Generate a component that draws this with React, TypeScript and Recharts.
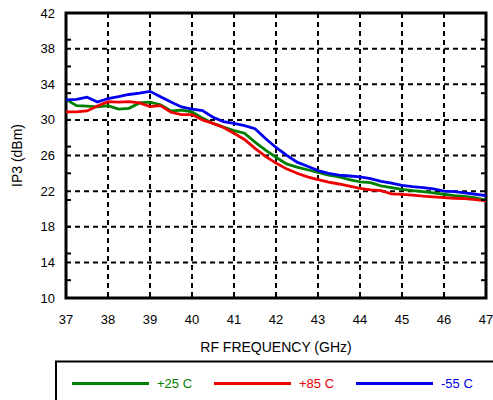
import React from "react";
import { LineChart, Line, XAxis, YAxis, CartesianGrid, ReferenceArea } from "recharts";

const freqs = [
  37, 37.25, 37.5, 37.75, 38, 38.25, 38.5, 38.75, 39, 39.25, 39.5, 39.75, 40, 40.25, 40.5, 40.75,
  41, 41.25, 41.5, 41.75, 42, 42.25, 42.5, 42.75, 43, 43.25, 43.5, 43.75, 44, 44.25, 44.5, 44.75,
  45, 45.25, 45.5, 45.75, 46, 46.25, 46.5, 46.75, 47,
];

const plus25 = [
  32.3, 31.6, 31.55, 31.45, 31.6, 31.2, 31.3, 31.9, 32.0, 31.7, 31.0, 31.1, 30.9, 30.2, 29.6, 29.2,
  28.8, 28.5, 27.5, 26.6, 25.8, 25.05, 24.7, 24.4, 24.1, 23.8, 23.6, 23.3, 23.05, 22.95, 22.6, 22.4,
  22.2, 22.05, 21.95, 21.8, 21.65, 21.5, 21.4, 21.25, 21.0,
];

const plus85 = [
  30.9, 30.9, 31.0, 31.55, 32.05, 32.0, 32.05, 31.9, 31.5, 31.6, 30.85, 30.6, 30.6, 30.0, 29.6, 29.15,
  28.5, 27.8, 26.8, 25.9, 25.15, 24.5, 24.0, 23.6, 23.3, 23.0, 22.8, 22.55, 22.3, 22.15, 22.05, 21.7,
  21.63, 21.55, 21.45, 21.35, 21.27, 21.2, 21.15, 21.05, 20.9,
];

const minus55 = [
  32.25, 32.3, 32.55, 32.0, 32.4, 32.6, 32.85, 33.0, 33.2, 32.6, 32.0, 31.45, 31.2, 31.05, 30.3, 29.8,
  29.6, 29.35, 29.0, 27.9, 26.9, 26.05, 25.25, 24.8, 24.3, 24.0, 23.8, 23.7, 23.6, 23.4, 23.1, 22.9,
  22.65, 22.5, 22.4, 22.25, 22.0, 21.95, 21.8, 21.65, 21.5,
];

const xTicks = [37, 38, 39, 40, 41, 42, 43, 44, 45, 46, 47];
const yTicks = [10, 14, 18, 22, 26, 30, 34, 38, 42];
const xMinorTicks = [37, 37.5, 38, 38.5, 39, 39.5, 40, 40.5, 41, 41.5, 42, 42.5, 43, 43.5, 44, 44.5, 45, 45.5, 46, 46.5, 47];
const yMinorTicks = [10, 11, 12, 13, 14, 15, 16, 17, 18, 19, 20, 21, 22, 23, 24, 25, 26, 27, 28, 29, 30, 31, 32, 33, 34, 35, 36, 37, 38, 39, 40, 41, 42];

const seriesNames = ["+25 C", "+85 C", "-55 C"];
const seriesColors = ["#008000", "#ee0000", "#0000ee"];

const data = freqs.map((f, i) => ({ f, g: plus25[i], r: plus85[i], b: minus55[i] }));

const FONT = "'Liberation Sans', Arial, Helvetica, sans-serif";

const NoLabel = () => <g />;
const minorLine = { stroke: "#000", strokeWidth: 2 };

export default function App() {
  return (
    <div style={{ position: "absolute", left: 0, top: 0, width: 493, height: 400, overflow: "hidden", background: "#fff", fontFamily: FONT }}>
      <LineChart width={493} height={400} data={data} margin={{ top: 13, right: 7, bottom: 42, left: 0 }}>
        <CartesianGrid stroke="#000" strokeWidth={2} strokeDasharray="5 4" />
        <XAxis
          dataKey="f"
          type="number"
          domain={[37, 47]}
          ticks={xTicks}
          axisLine={false}
          tickLine={false}
          tickSize={6}
          tickMargin={11}
          height={60}
          tick={{ fill: "#000", fontSize: 13, fontFamily: FONT }}
          label={{ value: "RF FREQUENCY (GHz)", position: "insideBottom", offset: 6, fill: "#000", fontSize: 14, fontFamily: FONT }}
        />
        <YAxis
          type="number"
          domain={[10, 42]}
          ticks={yTicks}
          axisLine={false}
          tickLine={false}
          tickSize={6}
          tickMargin={5}
          width={66}
          tick={{ fill: "#000", fontSize: 13, fontFamily: FONT }}
          label={{ value: "IP3 (dBm)", position: "insideLeft", angle: -90, offset: 17, textAnchor: "middle", fill: "#000", fontSize: 14, fontFamily: FONT }}
        />
        <XAxis xAxisId="mb" dataKey="f" type="number" domain={[37, 47]} ticks={xMinorTicks} mirror orientation="bottom" axisLine={false} tick={<NoLabel />} tickSize={5} tickLine={minorLine} height={1} />
        <XAxis xAxisId="mt" dataKey="f" type="number" domain={[37, 47]} ticks={xMinorTicks} mirror orientation="top" axisLine={false} tick={<NoLabel />} tickSize={5} tickLine={minorLine} height={1} />
        <YAxis yAxisId="ml" type="number" domain={[10, 42]} ticks={yMinorTicks} mirror orientation="left" axisLine={false} tick={<NoLabel />} tickSize={5} tickLine={minorLine} width={1} />
        <YAxis yAxisId="mr" type="number" domain={[10, 42]} ticks={yMinorTicks} mirror orientation="right" axisLine={false} tick={<NoLabel />} tickSize={5} tickLine={minorLine} width={1} />
        <Line xAxisId="mb" yAxisId="ml" dataKey="g" stroke="none" strokeWidth={0} dot={false} activeDot={false} legendType="none" isAnimationActive={false} />
        <Line xAxisId="mt" yAxisId="mr" dataKey="g" stroke="none" strokeWidth={0} dot={false} activeDot={false} legendType="none" isAnimationActive={false} />
        <Line dataKey="g" name={seriesNames[0]} stroke={seriesColors[0]} strokeWidth={2.8} dot={false} isAnimationActive={false} />
        <Line dataKey="r" name={seriesNames[1]} stroke={seriesColors[1]} strokeWidth={2.8} dot={false} isAnimationActive={false} />
        <Line dataKey="b" name={seriesNames[2]} stroke={seriesColors[2]} strokeWidth={2.8} dot={false} isAnimationActive={false} />
        <ReferenceArea x1={37} x2={47} y1={10} y2={42} fill="none" fillOpacity={0} stroke="#000" strokeWidth={3} />
      </LineChart>
      <svg width={493} height={60} style={{ position: "absolute", left: 0, top: 360 }}>
        <rect x={56} y={1.5} width={460} height={80} fill="#fff" stroke="#000" strokeWidth={2} />
        {seriesNames.map((n, i) => {
          const x0 = [72, 214, 356][i];
          return (
            <g key={n}>
              <line x1={x0} x2={x0 + 77} y1={23.5} y2={23.5} stroke={seriesColors[i]} strokeWidth={2.8} />
              <text x={x0 + 85} y={28} fill={seriesColors[i]} fontSize={13} fontFamily={FONT}>{n}</text>
            </g>
          );
        })}
      </svg>
    </div>
  );
}
